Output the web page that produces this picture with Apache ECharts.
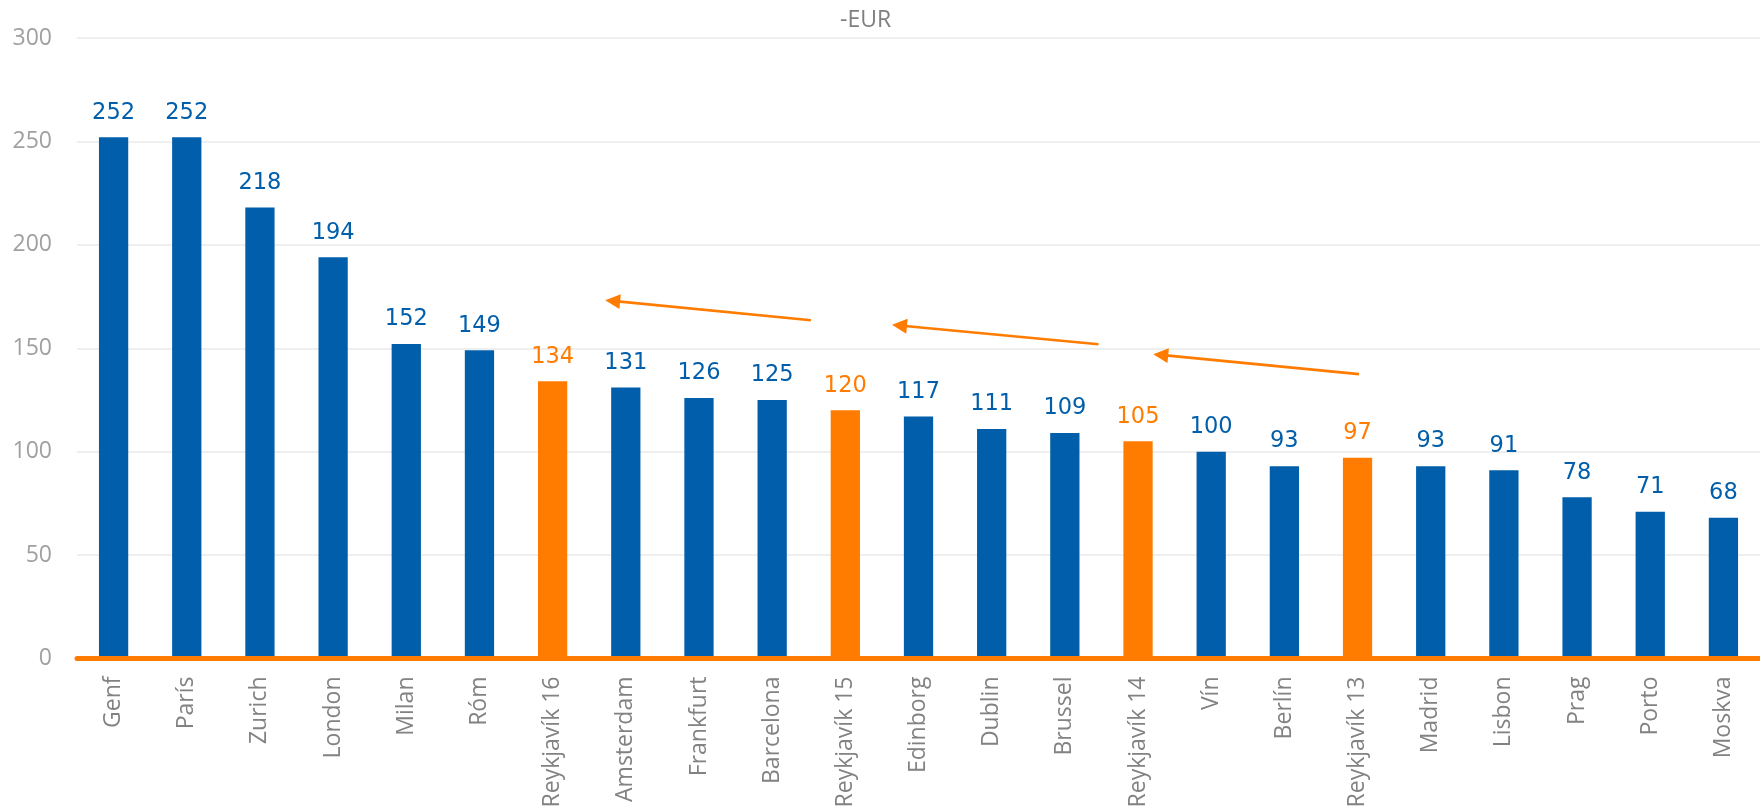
<!DOCTYPE html>
<html>
<head>
<meta charset="utf-8">
<title>-EUR</title>
<script src="https://cdn.jsdelivr.net/npm/echarts@6/dist/echarts.min.js"></script>
<style>
  html, body { margin: 0; padding: 0; background: #ffffff; }
  #chart { width: 1760px; height: 812px; }
</style>
</head>
<body>
<div id="chart"></div>
<script>
// City names along the x axis
const cities = [
  'Genf', 'París', 'Zurich', 'London', 'Milan', 'Róm', 'Reykjavík 16',
  'Amsterdam', 'Frankfurt', 'Barcelona', 'Reykjavík 15', 'Edinborg',
  'Dublin', 'Brussel', 'Reykjavík 14', 'Vín', 'Berlín', 'Reykjavík 13',
  'Madrid', 'Lisbon', 'Prag', 'Porto', 'Moskva'
];
// Price in EUR for each city
const prices = [
  252, 252, 218, 194, 152, 149, 134,
  131, 126, 125, 120, 117,
  111, 109, 105, 100, 93, 97,
  93, 91, 78, 71, 68
];
// Reykjavík years, drawn in orange
const highlighted = ['Reykjavík 16', 'Reykjavík 15', 'Reykjavík 14', 'Reykjavík 13'];
// Trend arrows: [tail x, tail y, head x, head y] in (category position, EUR)
const arrows = [
  [9.53, 163.5, 6.82, 172.9],
  [13.46, 151.9, 10.74, 161.0],
  [17.02, 137.5, 14.31, 146.8]
];
// y axis range
const yTicks = { min: 0, max: 300, interval: 50 };

const BLUE = '#005eaa';
const ORANGE = '#ff7c00';

const barData = prices.map((v, i) => {
  const c = highlighted.includes(cities[i]) ? ORANGE : BLUE;
  return { value: v, itemStyle: { color: c }, label: { color: c } };
});

const chart = echarts.init(document.getElementById('chart'), null, { renderer: 'canvas' });
chart.setOption({
  animation: false,
  backgroundColor: '#ffffff',
  title: {
    text: '-EUR',
    left: 840,
    top: 9,
    padding: 0,
    textStyle: { fontFamily: 'Open Sans', fontSize: 23, fontWeight: 'normal', color: '#7f7f7f' }
  },
  grid: { left: 77, right: 0, top: 38, bottom: 153.5, containLabel: false },
  xAxis: [
    {
      type: 'category',
      data: cities,
      z: 5,
      axisLine: { show: true, lineStyle: { color: ORANGE, width: 5 } },
      axisTick: { show: false },
      axisLabel: {
        rotate: 90,
        margin: 18,
        interval: 0,
        fontFamily: 'Open Sans',
        fontSize: 23,
        color: '#828282'
      }
    },
    {
      type: 'value',
      min: -0.5,
      max: 22.5,
      show: false
    }
  ],
  yAxis: {
    type: 'value',
    min: yTicks.min,
    max: yTicks.max,
    interval: yTicks.interval,
    axisLine: { show: false },
    axisTick: { show: false },
    axisLabel: { margin: 25, fontFamily: 'Open Sans', fontSize: 23, color: '#a0a0a0' },
    splitLine: { lineStyle: { color: '#efefef', width: 2 } }
  },
  series: [
    {
      type: 'bar',
      data: barData,
      xAxisIndex: 0,
      barWidth: '40%',
      label: {
        show: true,
        position: 'top',
        distance: 13,
        fontFamily: 'DejaVu Sans',
        fontSize: 22.5
      }
    },
    {
      type: 'lines',
      coordinateSystem: 'cartesian2d',
      xAxisIndex: 1,
      yAxisIndex: 0,
      z: 4,
      symbol: ['none', 'triangle'],
      symbolSize: [15, 15],
      lineStyle: { color: ORANGE, width: 2.6, opacity: 1, curveness: 0 },
      data: arrows.map(a => ({ coords: [[a[0], a[1]], [a[2], a[3]]] }))
    }
  ]
});
</script>
</body>
</html>
